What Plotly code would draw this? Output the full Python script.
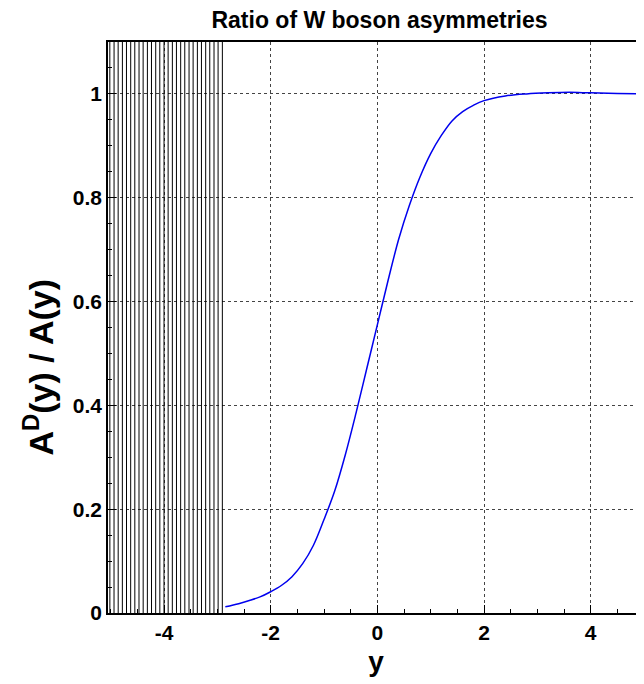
import plotly.graph_objects as go

# Blue ratio curve A^D(y)/A(y)
curve_x = [-2.85, -2.6, -2.4, -2.2, -2.0, -1.8, -1.6, -1.4, -1.2, -1.0, -0.8, -0.6, -0.4,
           -0.2, 0.0, 0.2, 0.4, 0.6, 0.8, 1.0, 1.2, 1.4, 1.6, 1.8, 2.0, 2.4, 2.8, 3.2,
           3.6, 4.0, 4.5, 5.0]
curve_y = [0.012, 0.018, 0.024, 0.031, 0.041, 0.053, 0.070, 0.095, 0.130, 0.180, 0.235,
           0.305, 0.385, 0.470, 0.555, 0.640, 0.720, 0.785, 0.840, 0.885, 0.920, 0.948,
           0.966, 0.978, 0.987, 0.996, 1.000, 1.002, 1.003, 1.002, 1.001, 1.000]

# Divergent (oscillating, off-scale) region of the function for y < -2.85
osc_x = [-5.054, -4.976, -4.898, -4.820, -4.742, -4.664, -4.586, -4.508, -4.430, -4.351,
         -4.273, -4.195, -4.117, -4.039, -3.961, -3.883, -3.805, -3.727, -3.649, -3.570,
         -3.492, -3.414, -3.336, -3.258, -3.180, -3.102, -3.024, -2.946, -2.867]
osc_y = [50, -50, 50, -50, 50, -50, 50, -50, 50, -50, 50, -50, 50, -50, 50, -50, 50, -50,
         50, -50, 50, -50, 50, -50, 50, -50, 50, -50, 50]

x_tickvals = [-4, -2, 0, 2, 4]
x_ticktext = ["-4", "-2", "0", "2", "4"]
y_tickvals = [0, 0.2, 0.4, 0.6, 0.8, 1.0]
y_ticktext = ["0", "0.2", "0.4", "0.6", "0.8", "1"]

FONT = "Liberation Sans, Arial, Helvetica, sans-serif"

W, H = 636, 676          # page body has an 8px margin
L, T, B = 100, 34, 71    # plot area: x 108..644, y 42..613 on the page

fig = go.Figure()
fig.add_trace(go.Scatter(x=osc_x, y=osc_y, mode="lines",
                         line=dict(color="black", width=1), showlegend=False,
                         hoverinfo="skip"))
fig.add_trace(go.Scatter(x=curve_x, y=curve_y, mode="lines", line_shape="spline",
                         line=dict(color="#0000ee", width=1.5), showlegend=False))

fig.update_layout(
    width=W, height=H,
    margin=dict(l=L, r=0, t=T, b=B),
    paper_bgcolor="white", plot_bgcolor="white",
    font=dict(family=FONT, color="black"),
    title=dict(text="<b>Ratio of W boson asymmetries</b>", x=371.5 / W, xref="container",
               xanchor="center", y=1 - 12 / H, yref="container", yanchor="middle",
               font=dict(size=23, family=FONT, color="black")),
)
fig.add_annotation(text="<b>A<sup>D</sup>(y) / A(y)</b>", textangle=-90,
                   xref="paper", yref="paper", x=-(L - 30) / (W - L), y=0.43,
                   xanchor="center", yanchor="middle", showarrow=False,
                   font=dict(size=34, family=FONT, color="black"))
fig.update_xaxes(
    range=[-5.05, 5.0], showline=True, linecolor="black", linewidth=1.5, mirror=True,
    tickvals=x_tickvals, ticktext=x_ticktext, ticks="inside", ticklen=8,
    tickcolor="black", tickwidth=1,
    tickfont=dict(size=21, family=FONT, weight="bold"),
    minor=dict(dtick=0.5, tick0=0, ticks="inside", ticklen=4, tickcolor="black", showgrid=False),
    showgrid=True, gridcolor="#444444", griddash="dot", gridwidth=1, zeroline=False,
    title=dict(text="<b>y</b>", font=dict(size=28, family=FONT), standoff=8),
)
fig.update_yaxes(
    range=[0, 1.1], showline=True, linecolor="black", linewidth=1.5, mirror=False,
    tickvals=y_tickvals, ticktext=y_ticktext, ticks="inside", ticklen=8,
    tickcolor="black", tickwidth=1,
    tickfont=dict(size=21, family=FONT, weight="bold"),
    minor=dict(dtick=0.05, tick0=0, ticks="inside", ticklen=4, tickcolor="black", showgrid=False),
    showgrid=True, gridcolor="#444444", griddash="dot", gridwidth=1, zeroline=False,
)

fig.write_html("out.html",
               post_script="document.documentElement.style.overflow='hidden';"
                           "document.body.style.overflow='hidden';")
